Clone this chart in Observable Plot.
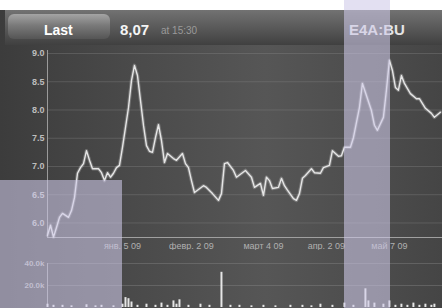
<!DOCTYPE html>
<html><head><meta charset="utf-8">
<script src="https://cdn.jsdelivr.net/npm/d3@7"></script>
<script src="https://cdn.jsdelivr.net/npm/@observablehq/plot@0.6"></script>
<style>
body{margin:0;width:442px;height:308px;overflow:hidden;background:#fff;font-family:"Liberation Sans",Arial,sans-serif;position:relative}
#screen{position:absolute;left:0;top:10px;width:442px;height:298px;background:linear-gradient(90deg,#3c3c3c 0%,#4a4a4a 30%,#565656 60%,#4c4c4c 85%,#454545 100%)}
#header{position:absolute;left:5px;top:10px;width:437px;height:35px;background:linear-gradient(#727272,#5c5c5c 45%,#404040 100%)}
#btn{position:absolute;left:8px;top:14px;width:102px;height:25px;border-radius:6px;background:linear-gradient(#a4a4a4,#7a7a7a 45%,#555 100%)}
.t{position:absolute;white-space:nowrap;font-weight:bold}
#price{position:absolute;left:0;top:45px}
#vol{position:absolute;left:0;top:250px}
.ov{position:absolute;background:rgba(206,201,232,0.58)}
</style></head>
<body>
<div id="screen"></div>
<div id="header"></div>
<div id="btn"></div>
<div class="t" style="left:44px;top:22px;font-size:14px;color:#fff">Last</div>
<div class="t" style="left:120px;top:21px;font-size:15px;color:#f4f4f4">8,07</div>
<div class="t" style="left:161px;top:25px;font-size:10px;color:#9a9a9a;font-weight:normal">at 15:30</div>
<div class="t" style="left:349px;top:21px;font-size:15px;color:#e4e4e4">E4A:BU</div>
<div id="price"></div>
<div id="vol"></div>
<div class="ov" style="left:0;top:180px;width:122px;height:128px"></div>
<div class="ov" style="left:344px;top:0;width:46px;height:308px"></div>
<script>
// Trading-day index and closing price (EUR)
const days = [0,1,2,3,4,5,7,8,9,10,11,12,13,14,15,17,18,19,20,21,22,23,24,25,27,28,29,30,31,32,33,34,35,36,37,38,39,40,42,43,45,46,47,48,49,50,52,53,55,57,58,59,60,62,63,65,66,68,69,71,72,73,74,75,77,78,79,80,82,83,84,85,86,88,89,91,92,94,95,97,98,99,101,102,104,105,106,108,109,110,112,113,114,115,116,117,118,119,121,123,124,126,128,129,131];
const prices = [5.78,5.96,5.75,5.92,6.10,6.17,6.10,6.22,6.45,6.88,6.98,7.05,7.28,7.11,6.96,6.96,6.89,6.75,6.89,6.81,6.88,6.98,7.02,7.34,8.04,8.52,8.79,8.61,8.17,7.73,7.37,7.27,7.25,7.51,7.74,7.46,7.07,7.23,7.14,7.11,7.23,7.05,6.98,6.75,6.54,6.58,6.66,6.63,6.52,6.40,6.52,7.05,7.07,6.93,6.81,6.89,6.93,6.81,6.63,6.70,6.49,6.81,6.75,6.61,6.63,6.79,6.66,6.58,6.43,6.40,6.52,6.79,6.84,6.96,6.89,6.88,6.98,7.02,7.28,7.18,7.19,7.34,7.34,7.51,8.04,8.47,8.31,7.99,7.73,7.64,7.87,8.35,8.88,8.70,8.40,8.35,8.61,8.47,8.29,8.20,8.20,8.03,7.94,7.87,7.96];
// Volume (shares)
const volDays = [0,2,5,8,13,16,18,22,25,26,27,28,30,33,36,38,40,42,43,44,47,51,54,58,61,64,68,72,76,81,85,88,91,95,99,102,106,107,109,112,114,116,118,120,122,124,126,128,129];
const volumes = [3000,2000,2000,1500,2500,1500,2000,1500,3000,9000,8000,5000,2000,3000,2000,4000,2000,6000,3000,7000,2000,3000,2000,32000,2000,2000,1500,2000,1500,2000,2000,1500,3000,2000,4000,2000,17000,6000,4000,3000,6000,2000,3000,2000,4000,2000,3000,2000,3000];
const priceTicks = [6.0,6.5,7.0,7.5,8.0,8.5,9.0];
const volTicks = [20000,40000];
const volTickLabels = ["20.0k","40.0k"];
const xTickDays = [25,48,72,93,114];
const xTickLabels = ["янв. 5 09","февр. 2 09","март 4 09","апр. 2 09","май 7 09"];

const price = days.map((d,i)=>({day:d, price:prices[i]}));
const vol = volDays.map((d,i)=>({day:d, volume:volumes[i]}));
const xLab = new Map(xTickDays.map((d,i)=>[d,xTickLabels[i]]));
const vLab = new Map(volTicks.map((d,i)=>[d,volTickLabels[i]]));
const xDomain = [0,131.7];
const yLo = 5.743, yHi = 9.053;

const p1 = Plot.plot({
  width:442, height:205, marginLeft:47, marginRight:0, marginTop:5, marginBottom:13,
  style:{background:"transparent", fontFamily:"Liberation Sans, Arial, sans-serif"},
  x:{domain:xDomain, axis:null},
  y:{domain:[yLo,yHi], axis:null},
  marks:[
    Plot.gridY(priceTicks,{stroke:"#8a8a8a", strokeOpacity:0.35}),
    Plot.ruleX([0],{stroke:"#9a9a9a", strokeWidth:1}),
    Plot.ruleY([yLo],{stroke:"#a0a0a0", strokeWidth:1.2}),
    Plot.axisY(priceTicks,{label:null, tickSize:0, tickPadding:3, fontSize:9, fontWeight:"bold", fill:"#bdbdbd", tickFormat:d=>d.toFixed(1)}),
    Plot.axisX(xTickDays,{label:null, tickSize:0, tickPadding:5, fontSize:9, fill:"#b0b0b0", tickFormat:d=>xLab.get(d)}),
    Plot.line(price,{x:"day", y:"price", stroke:"#ffffff", strokeOpacity:0.22, strokeWidth:3.5}),
    Plot.line(price,{x:"day", y:"price", stroke:"#e6e6e6", strokeWidth:1.4})
  ]
});
document.getElementById("price").appendChild(p1);

const p2 = Plot.plot({
  width:442, height:58, marginLeft:47, marginRight:0, marginTop:13, marginBottom:1,
  style:{background:"transparent", fontFamily:"Liberation Sans, Arial, sans-serif"},
  x:{domain:xDomain, axis:null},
  y:{domain:[0,40000], axis:null},
  marks:[
    Plot.gridY(volTicks,{stroke:"#8a8a8a", strokeOpacity:0.4}),
    Plot.ruleX([0],{stroke:"#9a9a9a"}),
    Plot.axisY(volTicks,{label:null, tickSize:0, tickPadding:3, fontSize:8, fontWeight:"bold", fill:"#b0b0b0", tickFormat:d=>vLab.get(d)}),
    Plot.ruleX(vol,{x:"day", y1:0, y2:"volume", stroke:"#e6e6e6", strokeWidth:2})
  ]
});
document.getElementById("vol").appendChild(p2);
</script>
</body></html>
